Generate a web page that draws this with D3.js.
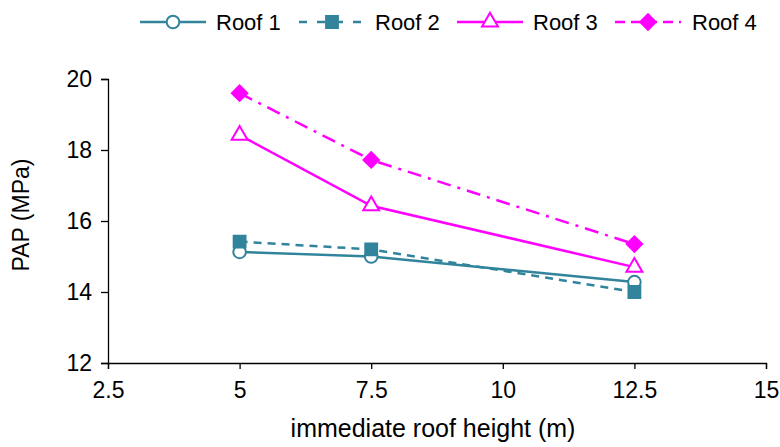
<!DOCTYPE html>
<html>
<head>
<meta charset="utf-8">
<script src="https://cdn.jsdelivr.net/npm/d3@7"></script>
<style>
  body { margin: 0; background: #fff; }
  text { font-family: "Liberation Sans", Arial, sans-serif; fill: #000; }
</style>
</head>
<body>
<div id="chart"></div>
<script>
var heights = [5, 7.5, 12.5];
var roof1 = [15.13, 15.0, 14.28];
var roof2 = [15.42, 15.2, 14.0];
var roof3 = [18.42, 16.43, 14.7];
var roof4 = [19.6, 17.72, 15.35];
var xTicks = [2.5, 5, 7.5, 10, 12.5, 15];
var yTicks = [12, 14, 16, 18, 20];

var teal = "#31849B", pink = "#FF00FF";
var series = [
  {name: "Roof 1", values: roof1, color: teal, dash: null, marker: "circle", fill: "#fff"},
  {name: "Roof 2", values: roof2, color: teal, dash: "8,6", marker: "square", fill: teal},
  {name: "Roof 3", values: roof3, color: pink, dash: null, marker: "triangle", fill: "#fff"},
  {name: "Roof 4", values: roof4, color: pink, dash: "14,7,3,7", marker: "diamond", fill: pink}
];

var width = 780, height = 447;
var svg = d3.select("#chart").append("svg").attr("width", width).attr("height", height);

var x = d3.scaleLinear().domain([2.5, 15]).range([108, 766]);
var y = d3.scaleLinear().domain([12, 20]).range([363, 79]);

// axes
var xAxis = svg.append("g").attr("transform", "translate(0," + y(12) + ")")
  .call(d3.axisBottom(x).tickValues(xTicks).tickSize(6).tickPadding(13).tickFormat(d3.format("")));
var yAxis = svg.append("g").attr("transform", "translate(" + x(2.5) + ",0)")
  .call(d3.axisLeft(y).tickValues(yTicks).tickSize(7).tickPadding(9));
[xAxis, yAxis].forEach(function(a) {
  a.select(".domain").attr("stroke", "#000").attr("stroke-width", 1.3);
  a.selectAll(".tick line").attr("stroke", "#000").attr("stroke-width", 1.3);
  a.selectAll(".tick text").attr("font-size", 23).style("font-family", "Liberation Sans, Arial, sans-serif");
});
xAxis.selectAll(".tick text").attr("dy", "0.71em");

svg.append("text").attr("x", 433).attr("y", 437).attr("text-anchor", "middle")
  .attr("font-size", 25).text("immediate roof height (m)");
svg.append("text").attr("transform", "translate(29,215) rotate(-90)")
  .attr("text-anchor", "middle").attr("font-size", 23).text("PAP (MPa)");

function markerPath(type) {
  if (type === "circle") return d3.symbol(d3.symbolCircle, 125)();
  if (type === "square") return d3.symbol(d3.symbolSquare, 140)();
  if (type === "triangle") return d3.symbol(d3.symbolTriangle, 110)();
  return d3.symbol(d3.symbolSquare, 120)();
}

var line = d3.line().x(function(d) { return x(d[0]); }).y(function(d) { return y(d[1]); });

series.forEach(function(s) {
  var pts = heights.map(function(h, i) { return [h, s.values[i]]; });
  svg.append("path").datum(pts).attr("d", line)
    .attr("fill", "none").attr("stroke", s.color).attr("stroke-width", 2.5)
    .attr("stroke-dasharray", s.dash);
  svg.selectAll(null).data(pts).enter().append("path")
    .attr("d", markerPath(s.marker))
    .attr("transform", function(d) {
      return "translate(" + x(d[0]) + "," + y(d[1]) + ")" + (s.marker === "diamond" ? " rotate(45)" : "");
    })
    .attr("fill", s.fill).attr("stroke", s.color).attr("stroke-width", 2);
});

// legend
var legendX = [140, 299, 457, 615];
var legend = svg.append("g");
series.forEach(function(s, i) {
  var lx = legendX[i], ly = 22;
  legend.append("line").attr("x1", lx).attr("x2", lx + 66).attr("y1", ly).attr("y2", ly)
    .attr("stroke", s.color).attr("stroke-width", 2.5)
    .attr("stroke-dasharray", i === 1 ? "8,10" : (i === 3 ? "10,6" : null));
  legend.append("path").attr("d", markerPath(s.marker))
    .attr("transform", "translate(" + (lx + 33) + "," + ly + ")" + (s.marker === "diamond" ? " rotate(45)" : ""))
    .attr("fill", s.fill).attr("stroke", s.color).attr("stroke-width", 2);
  legend.append("text").attr("x", lx + (i === 3 ? 77 : 76)).attr("y", ly + 8)
    .attr("font-size", 22).text(s.name);
});
</script>
</body>
</html>
